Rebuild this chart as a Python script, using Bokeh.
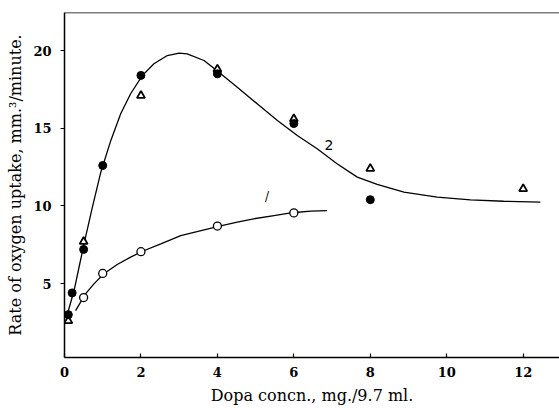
from bokeh.plotting import figure
from bokeh.models import Range1d, FixedTicker, Span
from bokeh.embed import file_html
from bokeh.resources import INLINE
from bokeh.core.properties import value

# Measured points
dot_x = [0.1, 0.2, 0.5, 1.0, 2.0, 4.0, 6.0, 8.0]
dot_y = [3.0, 4.4, 7.2, 12.6, 18.4, 18.5, 15.3, 10.4]

tri_x = [0.1, 0.5, 2.0, 4.0, 6.0, 8.0, 12.0]
tri_y = [2.6, 7.7, 17.1, 18.8, 15.6, 12.4, 11.1]

open_x = [0.5, 1.0, 2.0, 4.0, 6.0]
open_y = [4.1, 5.65, 7.05, 8.7, 9.55]

# Hand-drawn curves
curve2_x = [0.03, 0.08, 0.25, 0.38, 0.53, 0.73, 0.95, 1.21, 1.47, 1.73, 2.04, 2.34, 2.69, 3.0,
            3.21, 3.65, 4.04, 4.52, 5.04, 5.57, 6.09, 6.61, 7.13, 7.66, 8.18, 8.88, 9.75,
            10.62, 11.49, 12.45]
curve2_y = [2.8, 3.07, 4.55, 6.05, 7.77, 9.92, 12.17, 14.2, 15.93, 17.22, 18.4, 19.15, 19.68, 19.83,
            19.79, 19.36, 18.61, 17.64, 16.57, 15.5, 14.53, 13.68, 12.71, 11.85, 11.38, 10.88, 10.56,
            10.39, 10.3, 10.24]

curve1_x = [0.29, 0.55, 0.77, 1.03, 1.38, 1.73, 2.04, 2.52, 3.04, 4.0, 4.52, 4.95, 5.48, 5.96, 6.44, 6.87]
curve1_y = [3.26, 4.34, 4.98, 5.63, 6.23, 6.7, 7.08, 7.56, 8.09, 8.67, 8.95, 9.17, 9.38, 9.56, 9.66, 9.7]

x_ticks = [0, 2, 4, 6, 8, 10, 12]
y_ticks = [5, 10, 15, 20]

p = figure(width=559, height=408, output_backend="svg", toolbar_location=None,
           x_range=Range1d(0, 12.95), y_range=Range1d(0.24, 22.45),
           min_border_left=64, min_border_right=0, min_border_top=12, min_border_bottom=51)
p.outline_line_color = None
p.grid.visible = False
p.background_fill_color = "white"
p.border_fill_color = "white"

serif = "DejaVu Serif"

p.xaxis.ticker = FixedTicker(ticks=x_ticks)
p.yaxis.ticker = FixedTicker(ticks=y_ticks)
for ax in (p.xaxis, p.yaxis):
    ax.axis_line_color = "black"
    ax.axis_line_width = 1.5
    ax.major_tick_line_color = "black"
    ax.major_tick_line_width = 1.2
    ax.minor_tick_line_color = None
    ax.major_label_text_font = serif
    ax.major_label_text_font_style = "bold"
    ax.major_label_text_font_size = "13px"
    ax.major_label_text_color = "black"
    ax.axis_label_text_font = serif
    ax.axis_label_text_font_style = "normal"
    ax.axis_label_text_font_size = "16px"
    ax.axis_label_text_color = "black"

p.xaxis.major_tick_in = 4
p.xaxis.major_tick_out = 0
p.xaxis.major_label_standoff = 9
p.xaxis.axis_label = "Dopa concn., mg./9.7 ml."
p.xaxis.axis_label_standoff = 6

p.yaxis.major_tick_in = 0
p.yaxis.major_tick_out = 4
p.yaxis.major_label_standoff = 9
p.yaxis.axis_label = "Rate of oxygen uptake, mm.³/minute."
p.yaxis.axis_label_standoff = 5

# top border line
p.add_layout(Span(location=22.45, dimension="width", line_color="black", line_width=1.5))

p.line(curve2_x, curve2_y, line_color="black", line_width=1.3)
p.line(curve1_x, curve1_y, line_color="black", line_width=1.3)

p.scatter(open_x, open_y, marker="circle", size=8, fill_color="white",
          line_color="black", line_width=1.3)
p.scatter(tri_x, tri_y, marker="triangle", size=8, fill_color="white",
          line_color="black", line_width=1.8)
p.scatter(dot_x, dot_y, marker="circle", size=8, fill_color="black",
          line_color="black")

p.text(x=[6.92], y=[13.89], text=["2"], text_font=value("DejaVu Sans"),
       text_font_size="14px", text_align="center", text_baseline="middle", text_color="black")
p.text(x=[5.3], y=[10.56], text=["/"], text_font=value("DejaVu Serif"),
       text_font_size="12px", text_align="center", text_baseline="middle", text_color="black")

open("out.html", "w").write(file_html(p, INLINE))
